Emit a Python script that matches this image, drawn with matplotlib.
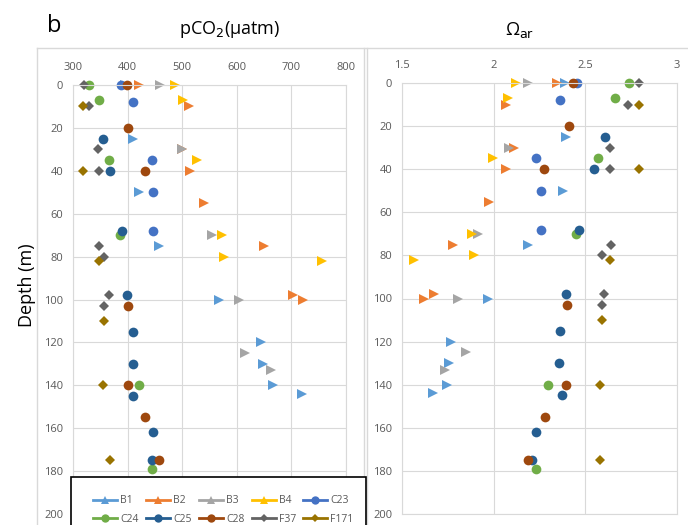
import matplotlib
matplotlib.use("Agg")
import matplotlib.pyplot as plt
from matplotlib.lines import Line2D
from matplotlib.patches import Rectangle

plt.rcParams['font.family'] = ['Open Sans', 'DejaVu Sans']

W, H = 688, 525

stations = ["B1", "B2", "B3", "B4", "C23", "C24", "C25", "C28", "F37", "F171"]
colors = ["#5B9BD5", "#ED7D31", "#A5A5A5", "#FFC000", "#4472C4",
          "#70AD47", "#255E91", "#9E480E", "#636363", "#997300"]

B1_depth = [0, 25, 50, 75, 100, 120, 130, 140, 144]
B1_pco2 = [395, 409, 421, 458, 568, 645, 648, 666, 720]
B1_omega = [2.39, 2.395, 2.378, 2.185, 1.969, 1.765, 1.758, 1.744, 1.667]

B2_depth = [0, 10, 30, 40, 55, 75, 98, 100]
B2_pco2 = [421, 513, 500, 514, 540, 650, 703, 721]
B2_omega = [2.347, 2.067, 2.11, 2.067, 1.976, 1.776, 1.676, 1.622]

B3_depth = [0, 30, 70, 100, 125, 133]
B3_pco2 = [459, 499, 555, 604, 615, 662]
B3_omega = [2.185, 2.084, 1.916, 1.807, 1.849, 1.735]

B4_depth = [0, 7, 35, 70, 80, 82]
B4_pco2 = [487, 502, 527, 572, 576, 756]
B4_omega = [2.12, 2.08, 1.995, 1.884, 1.895, 1.567]

C23_depth = [0, 8, 35, 50, 68]
C23_pco2 = [388, 410, 444, 446, 447]
C23_omega = [2.453, 2.36, 2.23, 2.26, 2.26]

C24_depth = [0, 7, 35, 70, 140, 179]
C24_pco2 = [329, 348, 366, 386, 421, 444]
C24_omega = [2.74, 2.66, 2.57, 2.447, 2.298, 2.23]

C25_depth = [25, 40, 68, 98, 115, 130, 145, 162, 175]
C25_pco2 = [355, 368, 389, 398, 410, 410, 410, 446, 444]
C25_omega = [2.605, 2.547, 2.464, 2.393, 2.36, 2.358, 2.371, 2.23, 2.207]

C28_depth = [0, 20, 40, 103, 140, 155, 175]
C28_pco2 = [399, 400, 432, 400, 400, 431, 458]
C28_omega = [2.433, 2.41, 2.273, 2.398, 2.396, 2.28, 2.185]

F37_depth = [0, 10, 30, 40, 75, 80, 98, 103]
F37_pco2 = [320, 329, 346, 347, 347, 357, 366, 357]
F37_omega = [2.793, 2.733, 2.635, 2.635, 2.64, 2.589, 2.6, 2.589]

F171_depth = [10, 40, 82, 110, 140, 175]
F171_pco2 = [318, 319, 347, 356, 355, 367]
F171_omega = [2.793, 2.793, 2.633, 2.589, 2.582, 2.582]

depth_ticks = [0, 20, 40, 60, 80, 100, 120, 140, 160, 180, 200]
pco2_ticks = [300, 400, 500, 600, 700, 800]
omega_ticks = [1.5, 2, 2.5, 3]
omega_ticklabels = ["1.5", "2", "2.5", "3"]

table = {
    "B1": (B1_depth, B1_pco2, B1_omega),
    "B2": (B2_depth, B2_pco2, B2_omega),
    "B3": (B3_depth, B3_pco2, B3_omega),
    "B4": (B4_depth, B4_pco2, B4_omega),
    "C23": (C23_depth, C23_pco2, C23_omega),
    "C24": (C24_depth, C24_pco2, C24_omega),
    "C25": (C25_depth, C25_pco2, C25_omega),
    "C28": (C28_depth, C28_pco2, C28_omega),
    "F37": (F37_depth, F37_pco2, F37_omega),
    "F171": (F171_depth, F171_pco2, F171_omega),
}


def mk(name):
    if name.startswith("B"):
        return ">", 7.5, "^", 6
    if name.startswith("C"):
        return "o", 7, "o", 6
    return "D", 5.3, "D", 4.5


def fx(px):
    return px / W


def fy(py):
    return 1 - py / H


fig = plt.figure(figsize=(W / 100, H / 100), dpi=100)

grid_c = "#D9D9D9"
tick_c = "#595959"


def make_axes(x0, x1, y0, y1):
    ax = fig.add_axes([fx(x0), fy(y1), fx(x1) - fx(x0), fy(y0) - fy(y1)])
    ax.set_ylim(200, 0)
    ax.set_yticks(depth_ticks)
    ax.xaxis.tick_top()
    ax.tick_params(axis="both", length=0, colors=tick_c, labelsize=8)
    ax.tick_params(axis="x", pad=9)
    ax.tick_params(axis="y", pad=7)
    for s in ax.spines.values():
        s.set_color(grid_c)
        s.set_linewidth(0.8)
    ax.grid(True, color=grid_c, linewidth=0.8)
    ax.set_axisbelow(True)
    return ax


ax1 = make_axes(73, 346, 85, 514)
ax1.set_xlim(300, 800)
ax1.set_xticks(pco2_ticks)

ax2 = make_axes(402, 677, 83, 514)
ax2.set_xlim(1.5, 3)
ax2.set_xticks(omega_ticks)
ax2.set_xticklabels(omega_ticklabels)

for name, col in zip(stations, colors):
    d, p, o = table[name]
    m, ms, _, _ = mk(name)
    ax1.plot(p, d, linestyle="none", marker=m, markersize=ms, color=col,
             markeredgewidth=0, clip_on=False)
    ax2.plot(o, d, linestyle="none", marker=m, markersize=ms, color=col,
             markeredgewidth=0, clip_on=False)

# chart-area borders
border_c = "#D9D9D9"
fig.add_artist(Line2D([fx(37), fx(688)], [fy(48), fy(48)], color=border_c, lw=1))
fig.add_artist(Line2D([fx(37), fx(37)], [fy(48), fy(525)], color=border_c, lw=1))
fig.add_artist(Line2D([fx(364), fx(364)], [fy(48), fy(525)], color=border_c, lw=1))
fig.add_artist(Line2D([fx(367), fx(367)], [fy(48), fy(525)], color=border_c, lw=1))

# titles
fig.text(fx(47), fy(26), "b", fontsize=17, ha="left", va="center", color="black")
fig.text(fx(230), fy(30), r"pCO$_2$(μatm)", fontsize=13, ha="center", va="center",
         color="black")
fig.text(fx(520), fy(30), r"Ω$_{\mathrm{ar}}$", fontsize=13, ha="center", va="center",
         color="black")
fig.text(fx(27), fy(285), "Depth (m)", fontsize=13, rotation=90, ha="center",
         va="center", color="black")

# legend box
rect = Rectangle((fx(71), fy(545)), fx(366) - fx(71), fy(477) - fy(545),
                 transform=fig.transFigure, facecolor="white", edgecolor="black",
                 linewidth=1.2, zorder=5)
fig.add_artist(rect)

handles = {}
for name, col in zip(stations, colors):
    _, _, lm, lms = mk(name)
    handles[name] = Line2D([0], [0], color=col, lw=2, marker=lm, markersize=lms,
                           markeredgewidth=0)
# matplotlib fills legend columns first; interleave so rows read B1..C23 / C24..F171
order = []
for i in range(5):
    order.append(stations[i])
    order.append(stations[i + 5])
leg = fig.legend([handles[n] for n in order], order, ncol=5, frameon=False,
                 loc="upper left", bbox_to_anchor=(fx(88), fy(490)), fontsize=7.5,
                 handlelength=2.3, handletextpad=0.3, columnspacing=0.7,
                 labelspacing=0.75, borderpad=0)
leg.set_zorder(6)
for t in leg.get_texts():
    t.set_color(tick_c)

fig.savefig("out.png", dpi=100)
